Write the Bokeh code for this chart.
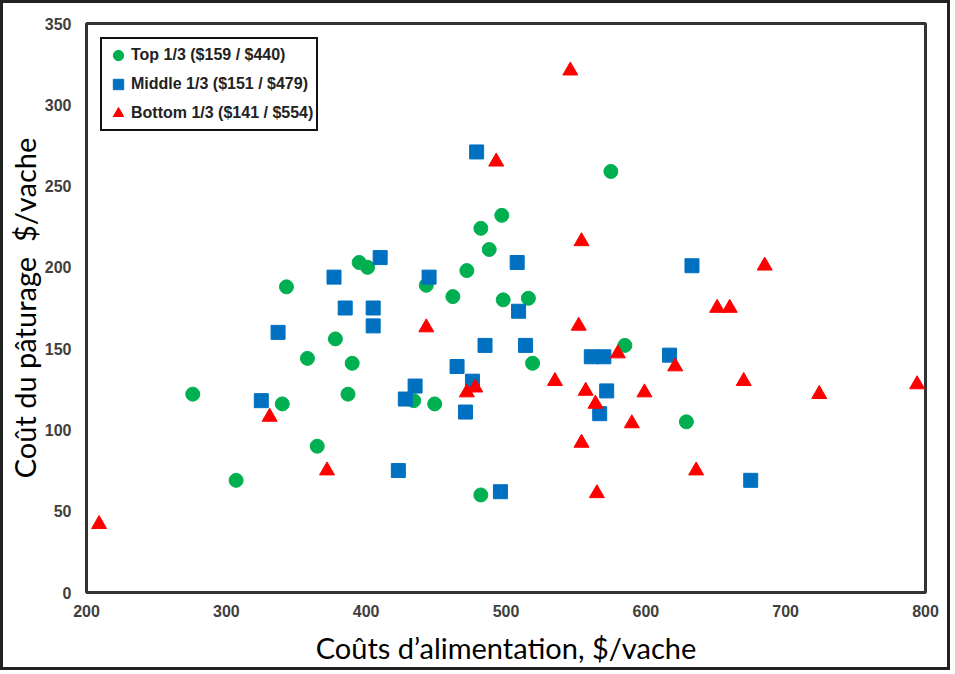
from bokeh.plotting import figure
from bokeh.layouts import column
from bokeh.models import Range1d, FixedTicker, Legend, LegendItem
from bokeh.embed import file_html
from bokeh.resources import INLINE

# Top 1/3
top_x = [276, 307, 340, 343, 358, 365, 378, 390, 387, 395, 401, 434, 443, 449,
         462, 472, 482, 488, 497, 498, 516, 519, 575, 585, 629, 482]
top_y = [122, 69, 116, 188, 144, 90, 156, 141, 122, 203, 200, 118, 189, 116,
         182, 198, 224, 211, 232, 180, 181, 141, 259, 152, 105, 60]

# Middle 1/3
mid_x = [479, 410, 377, 385, 405, 405, 337, 445, 508, 509, 485, 514, 561, 570,
         617, 572, 567, 633, 675, 465, 476, 435, 428, 471, 423, 496, 325]
mid_y = [271, 206, 194, 175, 175, 164, 160, 194, 203, 173, 152, 152, 145, 145,
         146, 124, 110, 201, 69, 139, 130, 127, 119, 111, 75, 62, 118]

# Bottom 1/3
bot_x = [209, 331, 372, 546, 493, 554, 443, 552, 580, 472, 478, 535, 557, 564,
         599, 590, 554, 565, 685, 651, 660, 621, 670, 724, 794, 636]
bot_y = [42, 108, 75, 321, 265, 216, 163, 164, 147, 123, 126, 130, 124, 116,
         123, 104, 92, 61, 201, 175, 175, 139, 130, 122, 128, 75]

labels = ["Top 1/3 ($159 / $440)", "Middle 1/3 ($151 / $479)", "Bottom 1/3 ($141 / $554)"]
x_ticks = [200, 300, 400, 500, 600, 700, 800]
y_ticks = [0, 50, 100, 150, 200, 250, 300, 350]

p = figure(width=944, height=664, output_backend="svg", toolbar_location=None,
           x_range=Range1d(200, 800), y_range=Range1d(0, 350),
           min_border_left=83, min_border_right=22, min_border_top=20, min_border_bottom=73)

p.grid.visible = False
p.outline_line_color = "#333333"
p.outline_line_width = 3
p.outline_line_alpha = 1.0

for ax in (p.xaxis[0], p.yaxis[0]):
    ax.axis_line_color = None
    ax.major_tick_line_color = None
    ax.minor_tick_line_color = None
    ax.major_tick_out = 0
    ax.major_tick_in = 0
    ax.minor_tick_out = 0
    ax.minor_tick_in = 0
    ax.major_label_text_font = "Liberation Sans"
    ax.major_label_text_font_style = "bold"
    ax.major_label_text_font_size = "16px"
    ax.major_label_text_color = "#404040"
    ax.axis_label_text_font = "Lato"
    ax.axis_label_text_font_style = "normal"
    ax.axis_label_text_font_size = "29px"
    ax.axis_label_text_color = "#000000"

p.xaxis[0].ticker = FixedTicker(ticks=x_ticks)
p.yaxis[0].ticker = FixedTicker(ticks=y_ticks)
p.xaxis[0].major_label_standoff = 12
p.yaxis[0].major_label_standoff = 15
p.xaxis[0].axis_label = "Coûts d’alimentation, $/vache"
p.yaxis[0].axis_label = "Coût du pâturage \u00a0$/vache"
p.xaxis[0].axis_label_standoff = 10
p.yaxis[0].axis_label_standoff = 0

r1 = p.scatter(top_x, top_y, marker="circle", size=14, fill_color="#00B050", line_color="#00B050")
r2 = p.scatter(mid_x, mid_y, marker="square", size=14, fill_color="#0070C0", line_color="#0070C0")
r3 = p.scatter(bot_x, bot_y, marker="triangle", size=15, fill_color="#FF0000", line_color="#FF0000")

legend = Legend(items=[LegendItem(label=labels[0], renderers=[r1]),
                       LegendItem(label=labels[1], renderers=[r2]),
                       LegendItem(label=labels[2], renderers=[r3])],
                location="top_left", margin=14, padding=3, spacing=3,
                glyph_width=26, glyph_height=26, label_height=26, label_standoff=-7,
                label_text_font="Liberation Sans", label_text_font_style="bold",
                label_text_font_size="16px", label_text_color="#222222",
                border_line_color="#111111", border_line_width=2, border_line_alpha=1.0,
                background_fill_alpha=1.0)
p.add_layout(legend)

page = column(p, styles={"border": "3px solid #222222"})

open("out.html", "w").write(file_html(page, INLINE))
